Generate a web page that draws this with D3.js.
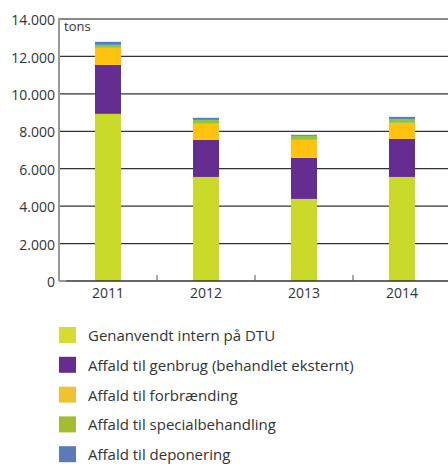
<!DOCTYPE html>
<html>
<head>
<meta charset="utf-8">
<script src="https://cdn.jsdelivr.net/npm/d3@7"></script>
<style>
  body { margin: 0; background: #fff; }
  text { font-family: "Open Sans", sans-serif; fill: #333; }
</style>
</head>
<body>
<div id="chart"></div>
<script>
// data (tons)
var years = ['2011', '2012', '2013', '2014'];
var genanvendt = [8930, 5560, 4385, 5560];
var genbrug = [2620, 1980, 2195, 2035];
var forbraending = [910, 860, 960, 855];
var special = [160, 210, 215, 210];
var deponering = [160, 110, 55, 110];
var seriesNames = ['Genanvendt intern på DTU', 'Affald til genbrug (behandlet eksternt)',
  'Affald til forbrænding', 'Affald til specialbehandling', 'Affald til deponering'];
var barColors = ['#c9da2a', '#662d91', '#ffc20e', '#8dc63f', '#4f7fc1'];
var legendColors = ['#d4dc30', '#662d91', '#f0c22e', '#a2bd30', '#5a7ab8'];
var yTicks = [0, 2000, 4000, 6000, 8000, 10000, 12000, 14000];

var w = 448, h = 466;
var plotLeft = 59, plotRight = 451, plotTop = 19, plotBottom = 281;

var svg = d3.select('#chart').append('svg')
  .attr('width', w)
  .attr('height', h);

var rows = years.map(function(yr, i) {
  return {year: yr, s0: genanvendt[i], s1: genbrug[i], s2: forbraending[i], s3: special[i], s4: deponering[i]};
});
var stack = d3.stack().keys(['s0', 's1', 's2', 's3', 's4']);
var layers = stack(rows);

var x = d3.scaleBand().domain(years).range([plotLeft, plotRight]).padding(0);
var y = d3.scaleLinear().domain([0, 14000]).range([plotBottom, plotTop]);
var fmt = function(d) { return d3.format(',')(d).replace(/,/g, '.'); };

// grid lines
svg.selectAll('.grid')
  .data(yTicks.filter(function(d) { return d > 0 && d < 14000; }))
  .enter().append('line')
  .attr('x1', plotLeft).attr('x2', w)
  .attr('y1', function(d) { return y(d); })
  .attr('y2', function(d) { return y(d); })
  .attr('stroke', '#333')
  .attr('stroke-width', 1.3);

// top border
svg.append('line')
  .attr('x1', plotLeft).attr('x2', w)
  .attr('y1', y(14000)).attr('y2', y(14000))
  .attr('stroke', '#888').attr('stroke-width', 2);

// y axis
var yAxis = svg.append('g')
  .attr('transform', 'translate(' + (plotLeft - 4) + ',0)')
  .call(d3.axisLeft(y).tickValues(yTicks).tickSize(0).tickPadding(0).tickFormat(fmt));
yAxis.select('.domain').remove();
yAxis.selectAll('text')
  .style('font-size', '14px')
  .style('font-family', '"Open Sans", sans-serif')
  .attr('fill', '#333')
  .attr('dy', '0.4em');

svg.append('line')
  .attr('x1', plotLeft).attr('x2', plotLeft)
  .attr('y1', plotTop - 1).attr('y2', plotBottom)
  .attr('stroke', '#999').attr('stroke-width', 2);

// bars
var barW = 26;
svg.selectAll('.layer')
  .data(layers)
  .enter().append('g')
  .attr('fill', function(d, i) { return barColors[i]; })
  .selectAll('rect')
  .data(function(d) { return d; })
  .enter().append('rect')
  .attr('x', function(d) { return x(d.data.year) + x.bandwidth() / 2 - barW / 2; })
  .attr('width', barW)
  .attr('y', function(d) { return y(d[1]); })
  .attr('height', function(d) { return y(d[0]) - y(d[1]); });

// x axis
svg.append('line')
  .attr('x1', plotLeft).attr('x2', w)
  .attr('y1', plotBottom).attr('y2', plotBottom)
  .attr('stroke', '#333').attr('stroke-width', 1.3);
svg.append('line')
  .attr('x1', plotLeft).attr('x2', plotLeft + 7)
  .attr('y1', plotBottom).attr('y2', plotBottom)
  .attr('stroke', '#999').attr('stroke-width', 2);

svg.selectAll('.xtick')
  .data(years.slice(1))
  .enter().append('line')
  .attr('x1', function(d) { return x(d); })
  .attr('x2', function(d) { return x(d); })
  .attr('y1', plotBottom).attr('y2', plotBottom - 6)
  .attr('stroke', '#555').attr('stroke-width', 1);

svg.selectAll('.xlabel')
  .data(years)
  .enter().append('text')
  .attr('x', function(d) { return x(d) + x.bandwidth() / 2; })
  .attr('y', 298)
  .attr('text-anchor', 'middle')
  .style('font-size', '14px')
  .text(function(d) { return d; });

svg.append('text')
  .attr('x', 64).attr('y', 31)
  .style('font-size', '13px')
  .text('tons');

// legend
var legend = svg.selectAll('.legend')
  .data(seriesNames)
  .enter().append('g')
  .attr('transform', function(d, i) { return 'translate(59,' + (327 + i * 29.8) + ')'; });
legend.append('rect')
  .attr('width', 17).attr('height', 16)
  .attr('fill', function(d, i) { return legendColors[i]; });
legend.append('text')
  .attr('x', 29).attr('y', 14)
  .style('font-size', '15px')
  .text(function(d) { return d; });
</script>
</body>
</html>
